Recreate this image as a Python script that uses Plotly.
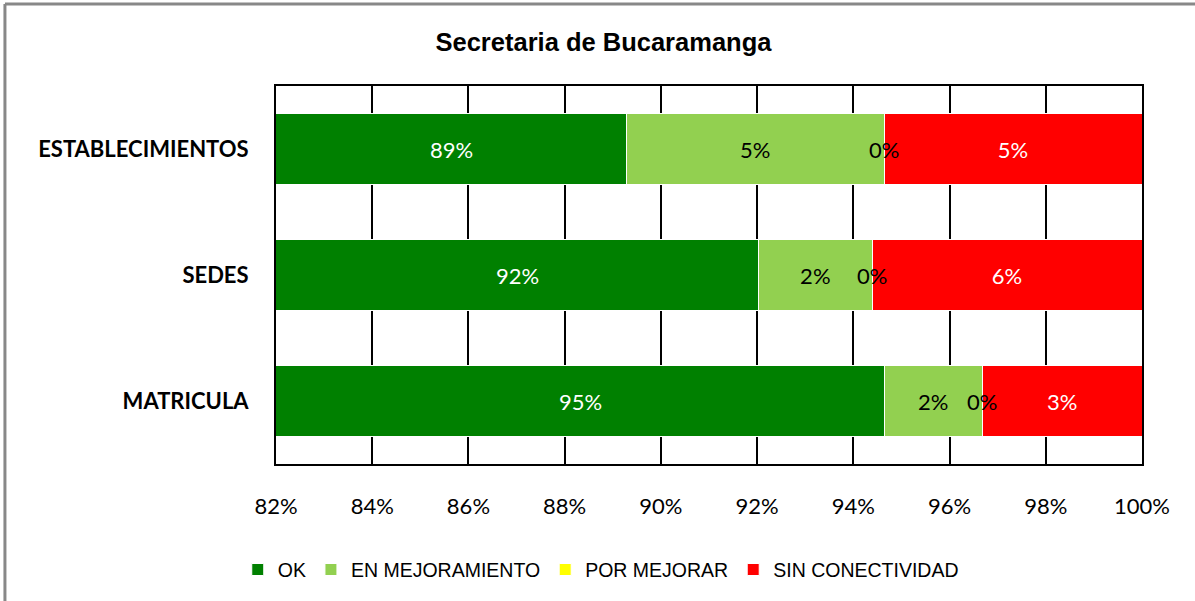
import plotly.graph_objects as go

categories = ["ESTABLECIMIENTOS", "SEDES", "MATRICULA"]
ok = [89.28, 92.03, 94.64]
en_mejoramiento = [5.36, 2.36, 2.04]
por_mejorar = [0.0, 0.0, 0.0]
sin_conectividad = [5.36, 5.61, 3.32]
x_ticks = [82, 84, 86, 88, 90, 92, 94, 96, 98, 100]
x_min, x_max = 82, 100

series = [
    ("OK", ok, "#008000", "white"),
    ("EN MEJORAMIENTO", en_mejoramiento, "#92D050", "black"),
    ("POR MEJORAR", por_mejorar, "#FFFF00", "black"),
    ("SIN CONECTIVIDAD", sin_conectividad, "#FF0000", "white"),
]

CAL = "Lato, 'Open Sans', sans-serif"
ARI = "'Liberation Sans', Arial, sans-serif"

fig = go.Figure()
for name, vals, color, tcolor in series:
    show_text = name in ("EN MEJORAMIENTO", "SIN CONECTIVIDAD")
    fig.add_trace(go.Bar(
        y=categories, x=vals, name=name, orientation="h",
        marker=dict(color=color, line=dict(color="white", width=1)),
        text=[f"{round(v)}%" for v in vals] if show_text else None,
        textposition="inside", insidetextanchor="middle", textangle=0,
        constraintext="none",
        textfont=dict(family=CAL, size=22, color=tcolor),
    ))

# labels for OK (centred on the visible part) and the near-zero POR MEJORAR segment
for i, cat in enumerate(categories):
    fig.add_annotation(x=(x_min + ok[i]) / 2, y=cat, xref="x", yref="y",
                       text=f"{round(ok[i])}%", showarrow=False,
                       font=dict(family=CAL, size=22, color="white"))
    xpos = ok[i] + en_mejoramiento[i] + por_mejorar[i] / 2
    fig.add_annotation(x=xpos, y=cat, xref="x", yref="y",
                       text=f"{round(por_mejorar[i])}%", showarrow=False,
                       font=dict(family=CAL, size=22, color="black"))

# outer chart border (top & left visible)
fig.add_shape(type="line", xref="paper", yref="paper", x0=-0.313, x1=1.3,
              y0=1.217, y1=1.217, line=dict(color="#888888", width=3))
fig.add_shape(type="line", xref="paper", yref="paper", x0=-0.313, x1=-0.313,
              y0=1.217, y1=-0.6, line=dict(color="#888888", width=3))

fig.update_layout(
    width=1195, height=601,
    margin=dict(l=276, r=53, t=86, b=137),
    barmode="stack", bargap=0.44,
    plot_bgcolor="white", paper_bgcolor="white",
    title=dict(text="<b>Secretaria de Bucaramanga</b>", x=0.505, xref="container",
               y=1 - 42 / 601, yref="container", yanchor="middle", xanchor="center",
               font=dict(family=ARI, size=25.5, color="black")),
    legend=dict(orientation="h", x=0.375, xanchor="center", y=-0.28, yanchor="middle",
                font=dict(family=ARI, size=19.5, color="black"), traceorder="normal",
                itemwidth=30),
    xaxis=dict(range=[x_min, x_max], tickvals=x_ticks, ticktext=[f"{t}%" for t in x_ticks],
               showgrid=True, gridcolor="black", gridwidth=1.5,
               showline=True, linecolor="black", linewidth=2, mirror=True,
               ticks="", ticklabelstandoff=22,
               tickfont=dict(family=CAL, size=22, color="black"), zeroline=False),
    yaxis=dict(categoryorder="array", categoryarray=categories[::-1],
               showline=True, linecolor="black", linewidth=2, mirror=True,
               ticks="", ticklabelstandoff=21,
               tickfont=dict(family=CAL, size=22, color="black", weight="bold")),
)

fig.write_html("out.html", post_script="document.body.style.margin='0';",
               config={"displayModeBar": False})
